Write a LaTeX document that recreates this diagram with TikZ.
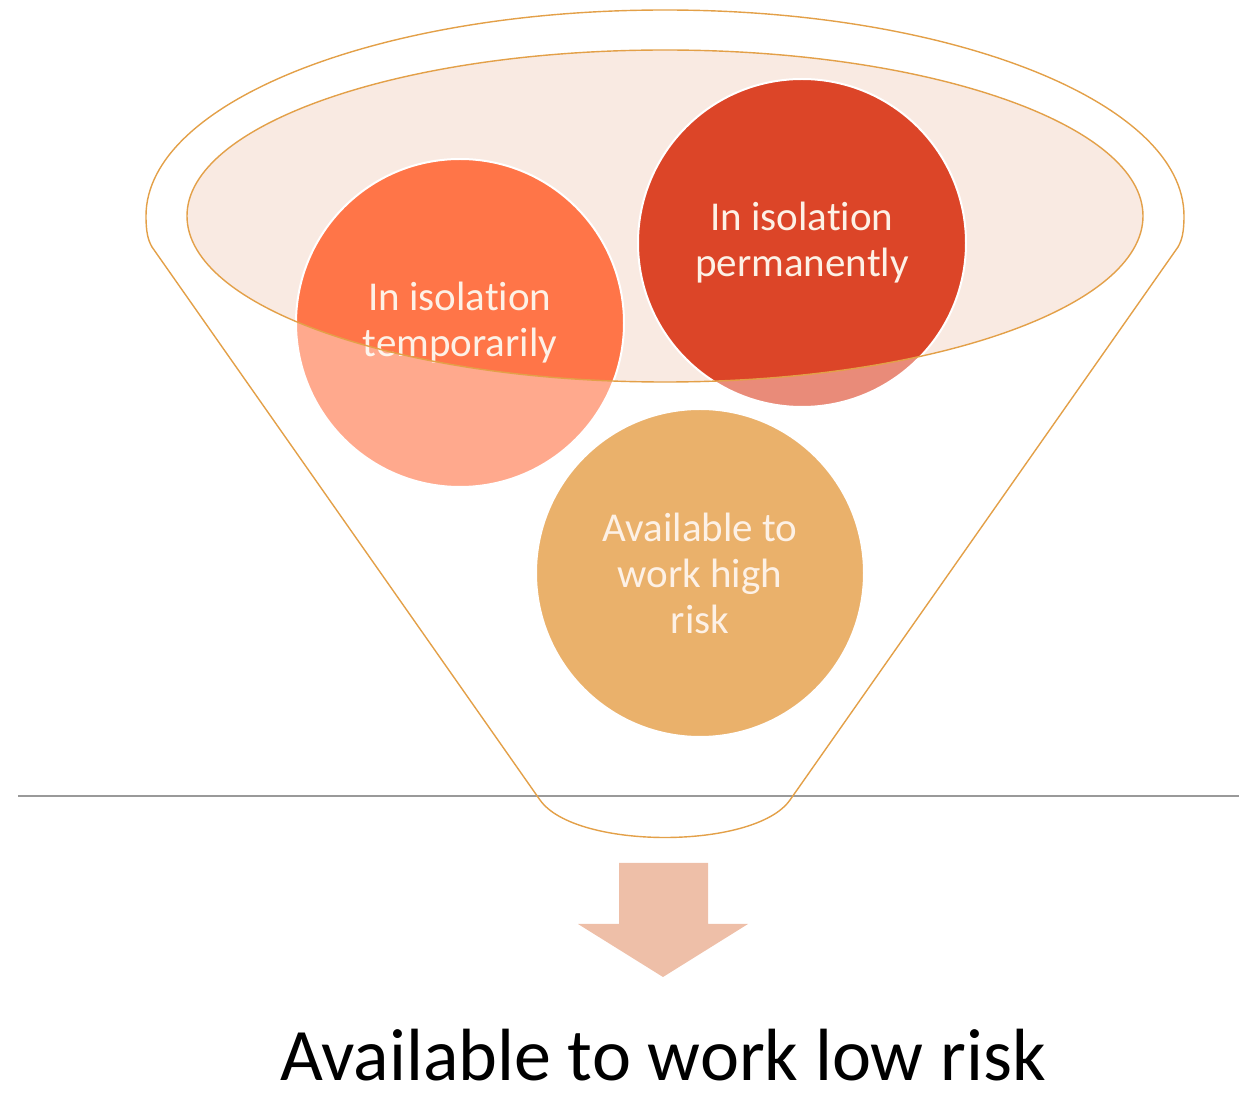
\documentclass[tikz,border=0pt]{standalone}
\usepackage{fontspec}
\setmainfont{Carlito}[Ligatures=NoCommon]
\usepackage{tikz}
\usetikzlibrary{positioning}
\definecolor{fnline}{HTML}{E3A048}
\definecolor{fnbowl}{HTML}{F9EAE2}
\definecolor{fntemp}{HTML}{FF7548}
\definecolor{fnperm}{HTML}{DC4528}
\definecolor{fnhigh}{HTML}{EAB16B}
\definecolor{fnarrow}{HTML}{EEBFA8}
\definecolor{fntext}{HTML}{FDF1E6}

\begin{document}
\begin{tikzpicture}[x=0.5pt,y=-0.5pt,
  ball/.style={circle,draw=white,line width=1pt,minimum size=164pt,inner sep=0pt,align=center,text=fntext,font=\fontsize{20.5}{23}\selectfont},
  rim/.style={draw=fnline,line width=0.7pt}]
  \useasboundingbox (0,0) rectangle (1239,1096);
  % mouth of the funnel
  \fill[fnbowl] (665,216) ellipse[x radius=478,y radius=166];
  \node[ball,fill=fntemp] (temp) at (460,323) {In isolation\\temporarily};
  \node[ball,fill=fnperm] (perm) at (802,243) {In isolation\\permanently};
  % body of the funnel washes out what lies below the mouth
  \fill[white,fill opacity=0.38,even odd rule]
    (146,216) arc[start angle=180,end angle=360,x radius=519,y radius=206]
    .. controls (1184,232) and (1182,240) .. (1178,247) -- (790,800)
    .. controls (755,850) and (575,850) .. (540,800) -- (152,247)
    .. controls (148,240) and (146,232) .. (146,216) -- cycle
    (665,216) ellipse[x radius=478,y radius=166];
  \node[ball,fill=fnhigh] (high) at (700,573) {Available to\\work high\\risk};
  \draw[black!40,line width=1pt] (18,796) -- (1239,796);
  % outlines
  \draw[rim] (665,216) ellipse[x radius=478,y radius=166];
  \draw[rim]
    (146,216) arc[start angle=180,end angle=360,x radius=519,y radius=206]
    .. controls (1184,232) and (1182,240) .. (1178,247) -- (790,800)
    .. controls (755,850) and (575,850) .. (540,800) -- (152,247)
    .. controls (148,240) and (146,232) .. (146,216) -- cycle;
  % down arrow and result
  \fill[fnarrow] (619,863) -- (708,863) -- (708,924) -- (748,924) -- (663,977) -- (578,924) -- (619,924) -- cycle;
  \node[anchor=base,inner sep=0pt,font=\fontsize{37}{44}\selectfont] (low) at (663,1080) {Available to work low risk};
\end{tikzpicture}
\end{document}
